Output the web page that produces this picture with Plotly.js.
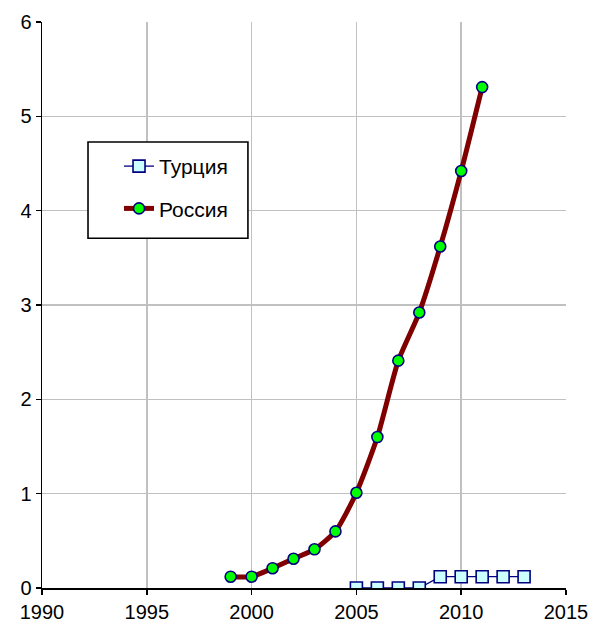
<!DOCTYPE html>
<html>
<head>
<meta charset="utf-8">
<script src="https://cdn.plot.ly/plotly-3.0.1.min.js"></script>
<style>html,body{margin:0;padding:0;background:#fff;}</style>
</head>
<body>
<div id="chart" style="width:592px;height:626px;"></div>
<script>
const turkeyYears = [2005, 2006, 2007, 2008, 2009, 2010, 2011, 2012, 2013];
const turkeyValues = [0, 0, 0, 0, 0.12, 0.12, 0.12, 0.12, 0.12];
const russiaYears = [1999, 2000, 2001, 2002, 2003, 2004, 2005, 2006, 2007, 2008, 2009, 2010, 2011];
const russiaValues = [0.12, 0.12, 0.21, 0.31, 0.41, 0.6, 1.01, 1.6, 2.41, 2.92, 3.62, 4.42, 5.31];
const xTicks = [1990, 1995, 2000, 2005, 2010, 2015];
const yTicks = [0, 1, 2, 3, 4, 5, 6];

const traces = [
  {
    x: turkeyYears, y: turkeyValues, name: 'Турция', type: 'scatter', mode: 'lines+markers',
    legendgroup: 'a',
    line: {color: '#000080', width: 1.3},
    marker: {symbol: 'square', size: 12, color: '#ccffff', line: {color: '#000080', width: 1.6}}
  },
  {
    x: russiaYears, y: russiaValues, name: 'Россия', type: 'scatter', mode: 'lines+markers',
    legendgroup: 'b',
    line: {color: '#800000', width: 5, shape: 'spline', smoothing: 0.6},
    marker: {symbol: 'circle', size: 11, color: '#00ff00', line: {color: '#000080', width: 1.6}}
  }
];

const layout = {
  width: 592, height: 626,
  margin: {l: 42, r: 26, t: 22, b: 38},
  paper_bgcolor: '#ffffff', plot_bgcolor: '#ffffff',
  font: {family: 'Liberation Sans, Arial, sans-serif', size: 20, color: '#000'},
  showlegend: true,
  legend: {
    x: 0.147, y: 0.781, xanchor: 'left', yanchor: 'top',
    borderwidth: 0, bgcolor: 'rgba(0,0,0,0)',
    font: {size: 21}, tracegroupgap: 12, traceorder: 'grouped'
  },
  shapes: [{
    type: 'rect', xref: 'paper', yref: 'paper', layer: 'above',
    x0: 0.0878, x1: 0.393, y0: 0.618, y1: 0.788,
    fillcolor: '#ffffff', line: {color: '#000000', width: 1.6}
  }],
  xaxis: {
    range: [1990, 2015], tickvals: xTicks, ticktext: xTicks.map(String),
    tickfont: {size: 20},
    showgrid: true, gridcolor: '#c0c0c0', gridwidth: 1.5,
    showline: true, linecolor: '#000', linewidth: 1.5,
    ticks: 'outside', ticklen: 5, tickcolor: '#000', tickwidth: 1.5,
    zeroline: false, fixedrange: true
  },
  yaxis: {
    range: [0, 6], tickvals: yTicks, ticktext: yTicks.map(String),
    tickfont: {size: 20},
    showgrid: true, gridcolor: '#c0c0c0', gridwidth: 1.5,
    showline: true, linecolor: '#000', linewidth: 1.5,
    ticks: 'outside', ticklen: 5, tickcolor: '#000', tickwidth: 1.5,
    zeroline: false, fixedrange: true
  }
};

Plotly.newPlot('chart', traces, layout, {displayModeBar: false, staticPlot: true});
</script>
</body>
</html>
